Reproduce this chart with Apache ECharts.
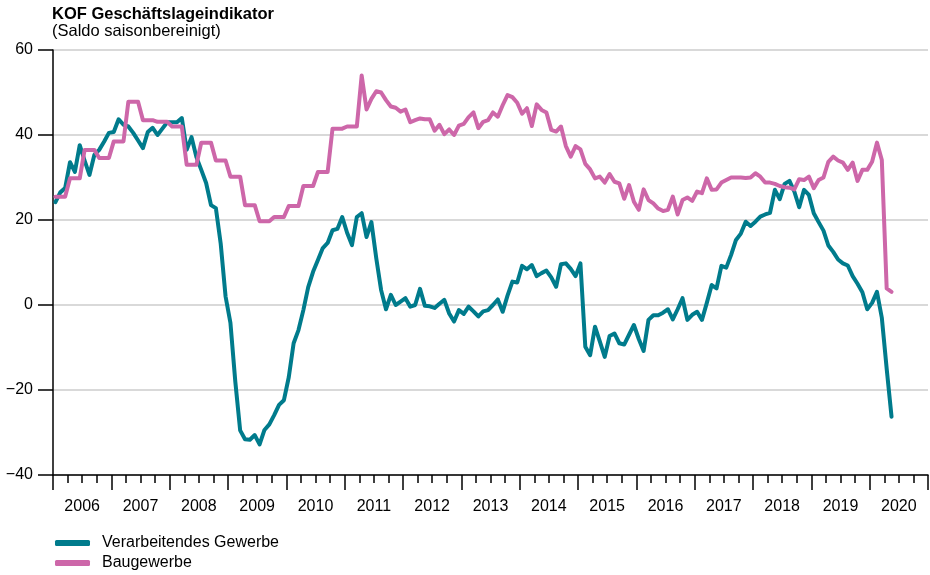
<!DOCTYPE html>
<html><head><meta charset="utf-8">
<script src="https://cdn.jsdelivr.net/npm/echarts@6/dist/echarts.min.js"></script>
<style>html,body{margin:0;padding:0;background:#fff}#c{width:930px;height:575px}</style>
</head><body><div id="c"></div>
<script>
// Year labels of the x axis (monthly data Jan 2006 – May 2020)
const years = ['2006','2007','2008','2009','2010','2011','2012','2013','2014','2015','2016','2017','2018','2019','2020'];
const yTicks = [-40, -20, 0, 20, 40, 60];

// Verarbeitendes Gewerbe (monthly)
const verarbeitendesGewerbe = [
  24.2, 26.5, 27.5, 33.6, 31.3, 37.6, 34, 30.6, 35.3, 36.5, 38.4, 40.5,      // 2006
  40.7, 43.7, 42.4, 42, 40.5, 38.7, 36.9, 40.7, 41.7, 40, 41.5, 43,          // 2007
  43, 43, 44, 36.5, 39.5, 34.8, 31.8, 28.7, 23.5, 22.8, 14.4, 2,             // 2008
  -4.2, -18, -29.5, -31.6, -31.7, -30.6, -32.8, -29.4, -28.1, -25.9, -23.5, -22.4, // 2009
  -17, -9, -5.9, -1.2, 4.2, 7.8, 10.6, 13.4, 14.6, 17.6, 17.9, 20.7,        // 2010
  17, 14.1, 20.7, 21.6, 16, 19.5, 11, 3.5, -1, 2.4, 0, 0.8,                 // 2011
  1.6, -0.4, 0, 3.8, -0.2, -0.3, -0.7, 0.3, 1.2, -2, -3.9, -1.2,            // 2012
  -2.1, -0.4, -1.5, -2.7, -1.5, -1.2, 0, 1.3, -1.6, 2.2, 5.5, 5.3,          // 2013
  9.2, 8.4, 9.4, 6.8, 7.5, 8.1, 6.5, 4.3, 9.6, 9.8, 8.5, 6.8,               // 2014
  9.8, -9.8, -11.8, -5.1, -8.6, -12.2, -7.3, -6.7, -9, -9.3, -7, -4.7,      // 2015
  -8, -10.8, -3.5, -2.4, -2.4, -1.8, -1, -3.4, -1, 1.6, -3.5, -2.3,         // 2016
  -1.6, -3.5, 0.5, 4.7, 3.9, 9.2, 8.8, 11.8, 15.3, 16.8, 19.6, 18.6,        // 2017
  19.6, 20.8, 21.3, 21.7, 27.1, 24.9, 28.5, 29.2, 26.7, 23, 27.1, 25.9,     // 2018
  21.6, 19.5, 17.5, 14, 12.5, 10.7, 9.8, 9.3, 6.8, 5, 3, -1,                // 2019
  0.5, 3.1, -3, -15, -26.3                                                  // 2020
];

// Baugewerbe (quarterly values repeated per month until Q1 2011, monthly afterwards)
const baugewerbe = [
  25.5, 25.5, 25.5, 29.8, 29.8, 29.8, 36.5, 36.5, 36.5, 34.6, 34.6, 34.6,   // 2006
  38.5, 38.5, 38.5, 47.8, 47.8, 47.8, 43.5, 43.5, 43.5, 43.1, 43.1, 43.1,   // 2007
  42, 42, 42, 33, 33, 33, 38.2, 38.2, 38.2, 34, 34, 34,                     // 2008
  30.2, 30.2, 30.2, 23.5, 23.5, 23.5, 19.7, 19.7, 19.7, 20.7, 20.7, 20.7,   // 2009
  23.3, 23.3, 23.3, 28, 28, 28, 31.3, 31.3, 31.3, 41.5, 41.5, 41.5,         // 2010
  42, 42, 42, 54, 46, 48.5, 50.3, 50, 48.2, 46.7, 46.4, 45.5,               // 2011
  46, 43, 43.5, 43.9, 43.7, 43.7, 41, 42.4, 40.2, 41.3, 40, 42.2,           // 2012
  42.6, 44.2, 45.3, 41.6, 43.1, 43.5, 45.3, 44.3, 47, 49.4, 48.9, 47.6,     // 2013
  45, 46.3, 42.1, 47.2, 45.9, 45.3, 41.2, 40.8, 42, 37.4, 34.9, 37.4,       // 2014
  36.6, 33.2, 31.9, 29.8, 30.2, 28.8, 30.8, 29, 28.6, 25, 28.2, 24.3,       // 2015
  22.4, 27.2, 24.7, 23.9, 22.7, 22.1, 22.4, 25.5, 21.3, 24.7, 25.3, 24.5,   // 2016
  26.7, 26.3, 29.8, 27.1, 27.2, 28.8, 29.4, 30, 30, 30, 29.9, 30,           // 2017
  31, 30.2, 28.8, 28.8, 28.5, 28, 27.7, 27.6, 27.2, 29.6, 29.4, 30.2,       // 2018
  27.5, 29.4, 30, 33.7, 34.9, 34, 33.5, 31.8, 33.5, 29.2, 31.8, 31.8,       // 2019
  33.7, 38.2, 34.1, 3.9, 3.1                                                // 2020
];

const seriesNames = ['Verarbeitendes Gewerbe', 'Baugewerbe'];
const colors = ['#007B8C', '#CD67A9'];

// month index -> position in the middle of the month on a 0..180 month scale
const toPoints = arr => arr.map((v, i) => [i + 0.5, v]);
const FONT = "'Liberation Sans', Arial, Helvetica, sans-serif";

const chart = echarts.init(document.getElementById('c'), null, {renderer: 'canvas'});
chart.setOption({
  animation: false,
  backgroundColor: '#fff',
  textStyle: {fontFamily: FONT},
  title: {
    left: 52, top: 5, padding: 0, itemGap: 0,
    text: 'KOF Geschäftslageindikator',
    subtext: '(Saldo saisonbereinigt)',
    textStyle: {fontFamily: FONT, fontSize: 16.5, fontWeight: 'bold', color: '#000', lineHeight: 18},
    subtextStyle: {fontFamily: FONT, fontSize: 16.5, color: '#000', lineHeight: 17}
  },
  legend: {
    orient: 'vertical', left: 55, top: 534, padding: 0,
    itemWidth: 35, itemHeight: 6, itemGap: 2, icon: 'roundRect',
    data: seriesNames,
    textStyle: {fontFamily: FONT, fontSize: 16, color: '#000', lineHeight: 18, padding: [0, 0, 0, 7]}
  },
  grid: {left: 53, right: 2, top: 50, bottom: 100, containLabel: false},
  xAxis: [
    {
      type: 'value', min: 0, max: years.length * 12, interval: 12, position: 'bottom',
      axisLine: {show: true, onZero: false, lineStyle: {color: '#000', width: 1.5}},
      axisTick: {show: true, length: 15, lineStyle: {color: '#000', width: 1.5}},
      minorTick: {show: true, splitNumber: 4, length: 8, lineStyle: {color: '#000', width: 1.5}},
      axisLabel: {show: false},
      splitLine: {show: false}
    },
    {
      type: 'category', data: years, position: 'bottom', boundaryGap: true,
      axisLine: {show: false, onZero: false},
      axisTick: {show: false},
      axisLabel: {margin: 24, fontSize: 16, color: '#000', fontFamily: FONT, interval: 0},
      splitLine: {show: false}
    }
  ],
  yAxis: {
    type: 'value', min: yTicks[0], max: yTicks[yTicks.length - 1], interval: 20,
    axisLine: {show: true, onZero: false, lineStyle: {color: '#000', width: 1.5}},
    axisTick: {show: true, length: 15, lineStyle: {color: '#000', width: 1.5}},
    axisLabel: {margin: 20, fontSize: 16, color: '#000', fontFamily: FONT,
      formatter: v => v < 0 ? '\u2212' + Math.abs(v) : String(v)},
    splitLine: {show: true, lineStyle: {color: '#cccccc', width: 1.5}}
  },
  series: [
    {
      name: seriesNames[0], type: 'line', xAxisIndex: 0, showSymbol: false, symbol: 'none',
      data: toPoints(verarbeitendesGewerbe), color: colors[0],
      lineStyle: {width: 4, color: colors[0], cap: 'round', join: 'round'}
    },
    {
      name: seriesNames[1], type: 'line', xAxisIndex: 0, showSymbol: false, symbol: 'none',
      data: toPoints(baugewerbe), color: colors[1],
      lineStyle: {width: 4, color: colors[1], cap: 'round', join: 'round'}
    }
  ]
});
</script>
</body></html>
